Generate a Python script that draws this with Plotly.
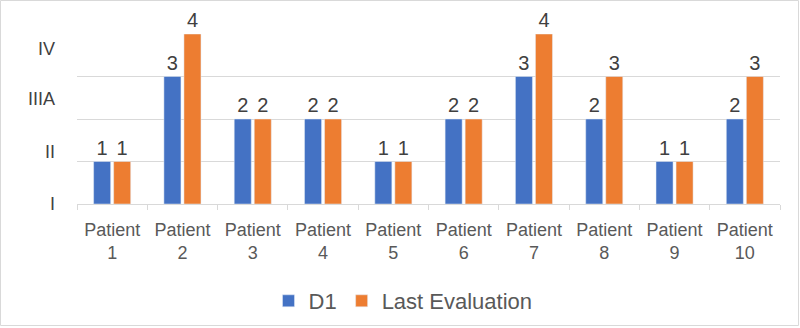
import plotly.graph_objects as go

categories = ["Patient<br>1", "Patient<br>2", "Patient<br>3", "Patient<br>4", "Patient<br>5",
              "Patient<br>6", "Patient<br>7", "Patient<br>8", "Patient<br>9", "Patient<br>10"]
d1 = [1, 3, 2, 2, 1, 2, 3, 2, 1, 2]
last_eval = [1, 4, 2, 2, 1, 2, 4, 3, 1, 3]
stage_labels = ["I", "II", "IIIA", "IV"]
stage_label_pos = [0, 1.22, 2.47, 3.65]
grid_vals = [0, 1, 2, 3, 4]

BLUE = "#4472C4"
ORANGE = "#ED7D31"
FONT = "Liberation Sans, Arial, sans-serif"

fig = go.Figure()
fig.add_trace(go.Bar(name="D1", x=categories, y=d1, marker_color=BLUE,
                     text=d1, textposition="outside", cliponaxis=False,
                     textfont=dict(size=20, color="#404040", family=FONT)))
fig.add_trace(go.Bar(name="Last Evaluation", x=categories, y=last_eval, marker_color=ORANGE,
                     text=last_eval, textposition="outside", cliponaxis=False,
                     textfont=dict(size=20, color="#404040", family=FONT)))

W, H = 800, 328
ml, mr, mt, mb = 77, 20, 34, 124
pw, ph = W - ml - mr, H - mt - mb

fig.update_layout(
    width=W, height=H,
    margin=dict(l=ml, r=mr, t=mt, b=mb, autoexpand=False),
    paper_bgcolor="white", plot_bgcolor="white",
    barmode="group", bargap=0.43, bargroupgap=0.15,
    font=dict(family=FONT, color="#595959", size=18),
    showlegend=True,
    legend=dict(orientation="h", x=(403 - ml) / pw, xanchor="center", y=(204 - 301) / ph,
                yanchor="middle", font=dict(size=22, color="#595959"), itemwidth=30,
                traceorder="normal"),
    xaxis=dict(type="category", showline=True, linecolor="#d9d9d9", linewidth=1,
               ticks="outside", tickson="boundaries", ticklen=5, tickcolor="#d9d9d9",
               ticklabelstandoff=9,
               tickfont=dict(size=18, color="#595959"), showgrid=False, automargin=False),
    yaxis=dict(range=[0, 4], tickmode="array", tickvals=stage_label_pos, ticktext=stage_labels,
               showgrid=False, zeroline=False, ticks="", ticklabelstandoff=21, automargin=False,
               tickfont=dict(size=18, color="#404040"),
               minor=dict(tickmode="array", tickvals=grid_vals, showgrid=True,
                          gridcolor="#d9d9d9", gridwidth=1, ticks="")),
    shapes=[dict(type="rect", xref="paper", yref="paper",
                 x0=-(ml - 0.5) / pw, x1=1 + (mr - 1.5) / pw,
                 y0=-(mb - 2.5) / ph, y1=1 + (mt - 0.5) / ph,
                 line=dict(color="#d9d9d9", width=1), fillcolor="rgba(0,0,0,0)", layer="below")],
)

fig.write_html("out.html", config={"displayModeBar": False},
               post_script="document.body.style.margin='0';")
